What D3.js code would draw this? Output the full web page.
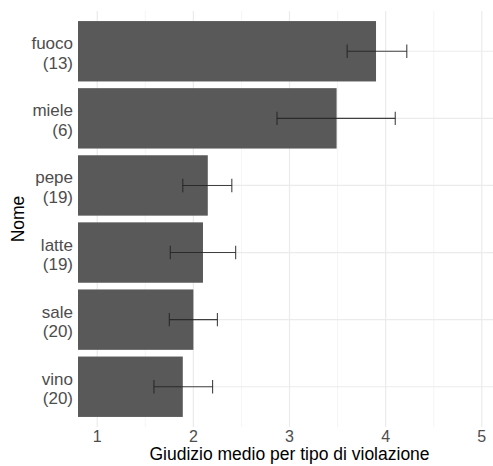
<!DOCTYPE html>
<html>
<head>
<meta charset="utf-8">
<script src="https://cdn.jsdelivr.net/npm/d3@7"></script>
<style>
  body { margin: 0; background: #fff; }
  svg text { font-family: "Liberation Sans", Arial, sans-serif; }
</style>
</head>
<body>
<div class="chart"></div>
<script>
// dati
const nomi = ['fuoco', 'miele', 'pepe', 'latte', 'sale', 'vino'];
const conteggi = [13, 6, 19, 19, 20, 20];
const medie = [3.90, 3.49, 2.15, 2.10, 2.00, 1.89];
const inf = [3.60, 2.87, 1.89, 1.76, 1.75, 1.59];
const sup = [4.22, 4.10, 2.40, 2.44, 2.25, 2.20];
const xTicks = [1, 2, 3, 4, 5];
const xMinor = [1.5, 2.5, 3.5, 4.5];

const data = nomi.map((n, i) => ({
    nome: n, n: conteggi[i], media: medie[i], lo: inf[i], hi: sup[i]
}));

const W = 493, H = 466;
const panel = {left: 78, right: 501, top: 11, bottom: 427};

const svg = d3.select('.chart').append('svg')
    .attr('width', W).attr('height', H);

const x = d3.scaleLinear([0.8, 5.2], [panel.left, panel.right]);
const y = d3.scaleBand()
    .domain(nomi)
    .range([panel.top, panel.bottom])
    .paddingInner(0.1)
    .paddingOuter(0.15);

svg.append('clipPath').attr('id', 'clip')
    .append('rect')
    .attr('x', panel.left).attr('y', panel.top)
    .attr('width', panel.right - panel.left)
    .attr('height', panel.bottom - panel.top);

const grid = svg.append('g');
grid.selectAll('.minor').data(xMinor).join('line')
    .attr('x1', d => x(d)).attr('x2', d => x(d))
    .attr('y1', panel.top).attr('y2', panel.bottom)
    .style('stroke', '#f2f2f2').style('stroke-width', 0.8);
grid.selectAll('.major').data(xTicks).join('line')
    .attr('x1', d => x(d)).attr('x2', d => x(d))
    .attr('y1', panel.top).attr('y2', panel.bottom)
    .style('stroke', '#ebebeb').style('stroke-width', 1.2);
grid.selectAll('.hmajor').data(nomi).join('line')
    .attr('x1', panel.left).attr('x2', panel.right)
    .attr('y1', d => y(d) + y.bandwidth() / 2)
    .attr('y2', d => y(d) + y.bandwidth() / 2)
    .style('stroke', '#ebebeb').style('stroke-width', 1.2);

const plot = svg.append('g').attr('clip-path', 'url(#clip)');

plot.selectAll('.bar').data(data).join('rect')
    .attr('class', 'bar')
    .attr('x', x(0))
    .attr('y', d => y(d.nome))
    .attr('width', d => x(d.media) - x(0))
    .attr('height', y.bandwidth())
    .style('fill', '#595959');

// barre d'errore
const capH = y.step() * 0.2;
const eb = plot.selectAll('.err').data(data).join('g')
    .attr('class', 'err')
    .attr('transform', d => `translate(0,${y(d.nome) + y.bandwidth() / 2})`);
eb.append('line')
    .attr('x1', d => x(d.lo)).attr('x2', d => x(d.hi))
    .attr('y1', 0).attr('y2', 0);
eb.append('line')
    .attr('x1', d => x(d.lo)).attr('x2', d => x(d.lo))
    .attr('y1', -capH / 2).attr('y2', capH / 2);
eb.append('line')
    .attr('x1', d => x(d.hi)).attr('x2', d => x(d.hi))
    .attr('y1', -capH / 2).attr('y2', capH / 2);
eb.selectAll('line').style('stroke', '#222').style('stroke-width', 1.1)
    .style('stroke-opacity', 0.85);

// etichette asse x
svg.append('g').selectAll('text').data(xTicks).join('text')
    .attr('x', d => x(d)).attr('y', 442)
    .attr('text-anchor', 'middle')
    .style('font-size', '16px').style('fill', '#4d4d4d')
    .text(d => d);

// etichette asse y
const yl = svg.append('g').selectAll('text').data(data).join('text')
    .attr('text-anchor', 'end')
    .style('font-size', '17px').style('fill', '#4d4d4d');
yl.append('tspan')
    .attr('x', 73).attr('y', d => y(d.nome) + y.bandwidth() / 2 - 2)
    .text(d => d.nome);
yl.append('tspan')
    .attr('x', 73).attr('y', d => y(d.nome) + y.bandwidth() / 2 + 17.5)
    .text(d => `(${d.n})`);

svg.append('text')
    .attr('x', (panel.left + panel.right) / 2).attr('y', 460)
    .attr('text-anchor', 'middle')
    .style('font-size', '17.5px').style('fill', '#000')
    .text('Giudizio medio per tipo di violazione');

svg.append('text')
    .attr('transform', `translate(24,${(panel.top + panel.bottom) / 2}) rotate(-90)`)
    .attr('text-anchor', 'middle')
    .style('font-size', '17.5px').style('fill', '#000')
    .text('Nome');
</script>
</body>
</html>
